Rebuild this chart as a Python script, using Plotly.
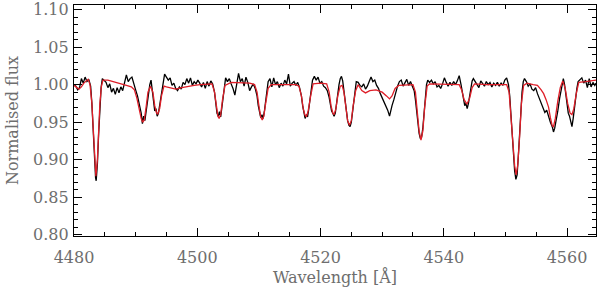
import plotly.graph_objects as go

# Observed spectrum (black)
obs_wl = [
    4480.0, 4480.3, 4480.6, 4480.9, 4481.2, 4481.5, 4481.8, 4482.1, 4482.4, 4482.7,
    4482.9, 4483.1, 4483.3, 4483.5, 4483.6, 4483.8, 4484.0, 4484.2, 4484.4, 4484.6,
    4484.9, 4485.2, 4485.5, 4485.8, 4486.1, 4486.4, 4486.7, 4487.0, 4487.3, 4487.6,
    4487.9, 4488.2, 4488.5, 4488.8, 4489.1, 4489.4, 4489.7, 4490.0, 4490.3, 4490.6,
    4490.9, 4491.1, 4491.3, 4491.5, 4491.7, 4491.9, 4492.1, 4492.3, 4492.5, 4492.7,
    4492.9, 4493.1, 4493.3, 4493.5, 4493.7, 4493.9, 4494.1, 4494.3, 4494.5, 4494.7,
    4495.0, 4495.3, 4495.6, 4495.9, 4496.2, 4496.5, 4496.8, 4497.1, 4497.4, 4497.7,
    4498.0, 4498.3, 4498.6, 4498.9, 4499.2, 4499.5, 4499.8, 4500.1, 4500.4, 4500.7,
    4501.0, 4501.3, 4501.6, 4501.9, 4502.2, 4502.5, 4502.8, 4503.0, 4503.2, 4503.4,
    4503.6, 4503.8, 4504.0, 4504.2, 4504.4, 4504.6, 4504.9, 4505.2, 4505.5, 4505.8,
    4506.1, 4506.4, 4506.7, 4507.0, 4507.3, 4507.6, 4507.9, 4508.2, 4508.5, 4508.8,
    4509.1, 4509.4, 4509.7, 4509.9, 4510.1, 4510.3, 4510.5, 4510.7, 4510.9, 4511.1,
    4511.3, 4511.5, 4511.8, 4512.1, 4512.4, 4512.7, 4513.0, 4513.3, 4513.6, 4513.9,
    4514.2, 4514.5, 4514.8, 4515.1, 4515.4, 4515.7, 4516.0, 4516.3, 4516.6, 4516.9,
    4517.1, 4517.3, 4517.5, 4517.7, 4517.9, 4518.1, 4518.3, 4518.5, 4518.7, 4519.0,
    4519.3, 4519.6, 4519.9, 4520.2, 4520.5, 4520.8, 4521.1, 4521.4, 4521.6, 4521.8,
    4522.0, 4522.2, 4522.4, 4522.6, 4522.8, 4523.0, 4523.2, 4523.4, 4523.6, 4523.8,
    4524.0, 4524.2, 4524.4, 4524.6, 4524.8, 4525.0, 4525.2, 4525.4, 4525.6, 4525.8,
    4526.1, 4526.4, 4526.7, 4527.0, 4527.3, 4527.6, 4527.9, 4528.2, 4528.5, 4528.8,
    4529.1, 4529.4, 4529.7, 4530.0, 4530.3, 4530.6, 4530.9, 4531.2, 4531.4, 4531.6,
    4531.9, 4532.2, 4532.5, 4532.8, 4533.1, 4533.4, 4533.7, 4534.0, 4534.3, 4534.6,
    4534.9, 4535.2, 4535.4, 4535.6, 4535.8, 4536.0, 4536.2, 4536.4, 4536.6, 4536.8,
    4537.0, 4537.2, 4537.4, 4537.7, 4538.0, 4538.3, 4538.6, 4538.9, 4539.2, 4539.5,
    4539.8, 4540.1, 4540.4, 4540.7, 4541.0, 4541.3, 4541.6, 4541.9, 4542.2, 4542.5,
    4542.8, 4543.0, 4543.2, 4543.4, 4543.6, 4543.8, 4544.0, 4544.2, 4544.4, 4544.6,
    4544.8, 4545.1, 4545.4, 4545.7, 4546.0, 4546.3, 4546.6, 4546.9, 4547.2, 4547.5,
    4547.8, 4548.1, 4548.4, 4548.7, 4549.0, 4549.3, 4549.6, 4549.9, 4550.2, 4550.5,
    4550.7, 4550.9, 4551.1, 4551.3, 4551.5, 4551.7, 4551.9, 4552.1, 4552.3, 4552.5,
    4552.7, 4552.9, 4553.1, 4553.4, 4553.7, 4554.0, 4554.3, 4554.6, 4554.9, 4555.2,
    4555.5, 4555.8, 4556.1, 4556.4, 4556.7, 4557.0, 4557.3, 4557.6, 4557.8, 4558.0,
    4558.2, 4558.5, 4558.8, 4559.1, 4559.4, 4559.6, 4559.8, 4560.0, 4560.2, 4560.4,
    4560.6, 4560.8, 4561.0, 4561.2, 4561.4, 4561.6, 4561.8, 4562.1, 4562.4, 4562.7,
    4563.0, 4563.3, 4563.6, 4563.9, 4564.2, 4564.5, 4564.7,
]
obs_flux = [
    1.000, 0.998, 0.993, 0.996, 1.008, 1.002, 1.010, 1.004, 1.007, 0.998,
    0.975, 0.940, 0.900, 0.876, 0.872, 0.895, 0.935, 0.972, 0.996, 1.008,
    1.006, 1.003, 0.996, 1.001, 0.990, 0.995, 0.987, 0.996, 0.989, 0.997,
    0.992, 1.003, 1.013, 1.004, 1.008, 1.010, 1.000, 0.993, 0.985, 0.975,
    0.962, 0.948, 0.958, 0.952, 0.965, 0.980, 0.990, 1.000, 1.006, 0.990,
    0.972, 0.965, 0.968, 0.958, 0.962, 0.972, 0.985, 0.998, 1.008, 1.014,
    1.010, 1.006, 1.009, 0.999, 1.002, 0.995, 0.992, 0.997, 0.994, 1.003,
    1.000, 1.008, 1.002, 1.009, 0.999, 1.004, 1.001, 1.006, 1.002, 0.997,
    1.003, 0.995, 1.004, 0.998, 1.005, 1.001, 0.990, 0.975, 0.962, 0.958,
    0.964, 0.957, 0.970, 0.985, 0.998, 1.009, 1.004, 1.008, 1.001, 0.995,
    0.986, 1.003, 1.015, 1.004, 1.008, 0.998, 1.010, 1.003, 0.992, 0.997,
    1.001, 0.995, 0.985, 0.972, 0.962, 0.956, 0.960, 0.955, 0.965, 0.978,
    0.992, 1.004, 1.008, 0.997, 1.009, 1.000, 1.004, 0.996, 1.002, 0.998,
    1.006, 1.001, 1.014, 0.998, 1.002, 1.004, 0.999, 1.003, 0.996, 0.985,
    0.972, 0.962, 0.955, 0.960, 0.957, 0.968, 0.982, 0.995, 1.006, 1.011,
    1.006, 1.010, 1.002, 1.004, 0.998, 0.996, 0.992, 0.983, 0.972, 0.965,
    0.962, 0.958, 0.962, 0.975, 0.990, 1.000, 1.008, 1.011, 1.005, 0.990,
    0.975, 0.962, 0.952, 0.946, 0.944, 0.950, 0.965, 0.982, 0.995, 1.004,
    1.003, 0.999, 0.997, 1.001, 0.994, 0.998, 1.004, 1.010, 1.004, 1.006,
    0.999, 0.995, 0.988, 0.983, 0.978, 0.972, 0.966, 0.958, 0.966, 0.972,
    0.980, 0.990, 0.998, 1.004, 1.006, 0.998, 1.003, 1.007, 0.999, 1.004,
    0.998, 0.992, 0.980, 0.962, 0.945, 0.935, 0.928, 0.930, 0.942, 0.965,
    0.985, 1.000, 1.006, 1.003, 1.006, 1.001, 1.004, 0.997, 0.999, 0.995,
    1.001, 1.009, 1.003, 0.998, 1.003, 0.999, 1.004, 1.000, 1.005, 1.012,
    1.000, 0.990, 0.978, 0.972, 0.975, 0.968, 0.975, 0.985, 0.995, 1.005,
    1.008, 1.004, 0.999, 0.996, 1.005, 1.002, 0.998, 1.004, 1.000, 1.003,
    0.997, 1.002, 0.999, 1.003, 0.998, 1.002, 0.999, 1.006, 1.009, 1.000,
    0.985, 0.960, 0.930, 0.905, 0.885, 0.874, 0.880, 0.905, 0.935, 0.965,
    0.990, 1.004, 1.008, 1.004, 0.998, 1.001, 0.994, 0.992, 0.996, 0.988,
    0.982, 0.975, 0.970, 0.963, 0.966, 0.956, 0.950, 0.944, 0.937, 0.942,
    0.950, 0.965, 0.982, 0.998, 1.008, 1.000, 0.985, 0.972, 0.962, 0.958,
    0.950, 0.944, 0.955, 0.970, 0.985, 0.995, 1.004, 1.007, 1.009, 1.002,
    1.006, 0.996, 1.008, 0.997, 1.003, 0.999, 1.002,
]

# Synthetic model spectrum (red)
mod_wl = [
    4480.0, 4480.4, 4480.8, 4481.2, 4481.6, 4482.0, 4482.3, 4482.6, 4482.9, 4483.1,
    4483.3, 4483.55, 4483.8, 4484.0, 4484.2, 4484.45, 4484.7, 4485.5, 4486.5, 4487.5,
    4488.5, 4489.3, 4489.8, 4490.2, 4490.6, 4490.9, 4491.15, 4491.4, 4491.7, 4492.0,
    4492.4, 4492.8, 4493.1, 4493.4, 4493.6, 4493.9, 4494.2, 4494.6, 4495.0, 4495.8,
    4496.5, 4497.5, 4498.5, 4499.5, 4500.5, 4501.5, 4502.4, 4502.8, 4503.1, 4503.35,
    4503.55, 4503.8, 4504.1, 4504.5, 4505.5, 4507.0, 4508.5, 4509.3, 4509.7, 4510.0,
    4510.3, 4510.55, 4510.8, 4511.1, 4511.5, 4512.0, 4514.0, 4516.0, 4516.5, 4516.9,
    4517.2, 4517.45, 4517.7, 4518.0, 4518.4, 4518.8, 4520.0, 4521.0, 4521.4, 4521.7,
    4522.0, 4522.2, 4522.5, 4522.8, 4523.2, 4523.5, 4523.8, 4524.1, 4524.4, 4524.7,
    4525.0, 4525.3, 4525.7, 4526.1, 4526.7, 4527.3, 4528.0, 4529.0, 4530.0, 4530.7,
    4531.2, 4531.6, 4532.1, 4532.7, 4534.0, 4535.0, 4535.4, 4535.7, 4536.0, 4536.3,
    4536.6, 4536.9, 4537.3, 4537.7, 4539.0, 4541.0, 4542.5, 4542.9, 4543.3, 4543.75,
    4544.2, 4544.6, 4545.0, 4547.0, 4549.0, 4550.2, 4550.6, 4550.9, 4551.2, 4551.5,
    4551.75, 4552.0, 4552.3, 4552.6, 4552.95, 4553.5, 4554.5, 4555.2, 4555.8, 4556.2,
    4556.6, 4557.0, 4557.3, 4557.6, 4557.8, 4558.1, 4558.5, 4558.9, 4559.3, 4559.7,
    4560.1, 4560.5, 4560.8, 4561.1, 4561.5, 4561.9, 4563.0, 4564.7,
]
mod_flux = [
    0.999, 0.996, 0.994, 0.997, 1.002, 1.005, 1.007, 1.000, 0.975, 0.945,
    0.905, 0.878, 0.900, 0.940, 0.975, 0.998, 1.006, 1.006, 1.004, 1.002,
    0.999, 0.997, 0.993, 0.982, 0.966, 0.955, 0.950, 0.953, 0.970, 0.990,
    0.998, 0.990, 0.972, 0.962, 0.961, 0.968, 0.985, 0.998, 0.997, 0.995,
    0.994, 0.996, 0.998, 0.999, 1.000, 1.001, 1.001, 0.990, 0.970, 0.958,
    0.955, 0.960, 0.980, 0.999, 1.003, 1.003, 1.002, 1.000, 0.990, 0.972,
    0.957, 0.953, 0.958, 0.975, 0.995, 1.000, 1.000, 1.000, 0.998, 0.985,
    0.968, 0.960, 0.957, 0.965, 0.985, 1.001, 1.002, 1.001, 0.990, 0.972,
    0.962, 0.960, 0.968, 0.985, 0.998, 0.999, 0.990, 0.970, 0.952, 0.946,
    0.952, 0.972, 0.992, 1.000, 0.992, 0.989, 0.992, 0.993, 0.990, 0.985,
    0.981, 0.985, 0.995, 0.999, 1.000, 1.000, 0.990, 0.965, 0.938, 0.926,
    0.938, 0.970, 0.998, 1.001, 1.001, 1.000, 1.000, 0.993, 0.980, 0.974,
    0.982, 0.996, 1.001, 1.000, 1.000, 1.000, 0.990, 0.960, 0.925, 0.892,
    0.880, 0.893, 0.930, 0.975, 0.999, 1.002, 1.000, 0.999, 0.993, 0.988,
    0.980, 0.970, 0.956, 0.945, 0.944, 0.955, 0.978, 0.996, 1.005, 0.995,
    0.975, 0.962, 0.960, 0.968, 0.988, 1.003, 1.004, 1.006,
]

x_range = [4480.0, 4564.7]
y_range = [0.7985, 1.106]
x_ticks = [4480, 4500, 4520, 4540, 4560]
y_ticks = [0.80, 0.85, 0.90, 0.95, 1.00, 1.05, 1.10]
y_tick_text = ["0.80", "0.85", "0.90", "0.95", "1.00", "1.05", "1.10"]

FONT = "DejaVu Serif"
GREY = "#6e6e6e"

fig = go.Figure()
fig.add_trace(go.Scatter(x=obs_wl, y=obs_flux, mode="lines",
                         line=dict(color="black", width=1.3), showlegend=False))
fig.add_trace(go.Scatter(x=mod_wl, y=mod_flux, mode="lines",
                         line=dict(color="rgb(222,30,40)", width=1.3), showlegend=False))

axis_common = dict(showgrid=False, zeroline=False, showline=True, linecolor="black",
                   linewidth=1.2, mirror="ticks", ticks="inside", tickcolor="black",
                   tickwidth=1.2, ticklen=8, automargin=False, ticklabeloverflow="allow",
                   tickfont=dict(family=FONT, size=16, color=GREY))

fig.update_xaxes(range=x_range, tickvals=x_ticks, ticktext=[str(t) for t in x_ticks],
                 minor=dict(ticks="inside", dtick=5, ticklen=4, tickcolor="black", tickwidth=1),
                 title=dict(text="Wavelength [Å]", font=dict(family=FONT, size=16, color=GREY),
                            standoff=0),
                 ticklabelstandoff=7,
                 **axis_common)
fig.update_yaxes(range=y_range, tickvals=y_ticks, ticktext=y_tick_text,
                 minor=dict(ticks="inside", dtick=0.01, ticklen=4, tickcolor="black", tickwidth=1),
                 title=dict(text="Normalised flux", font=dict(family=FONT, size=16, color=GREY),
                            standoff=10),
                 ticklabelstandoff=1,
                 **axis_common)

fig.update_layout(width=600, height=288, margin=dict(l=74, r=4, t=5, b=52),
                  plot_bgcolor="white", paper_bgcolor="white")

fig.write_html("out.html", config={"displayModeBar": False},
               post_script="document.body.style.margin='0px';")
